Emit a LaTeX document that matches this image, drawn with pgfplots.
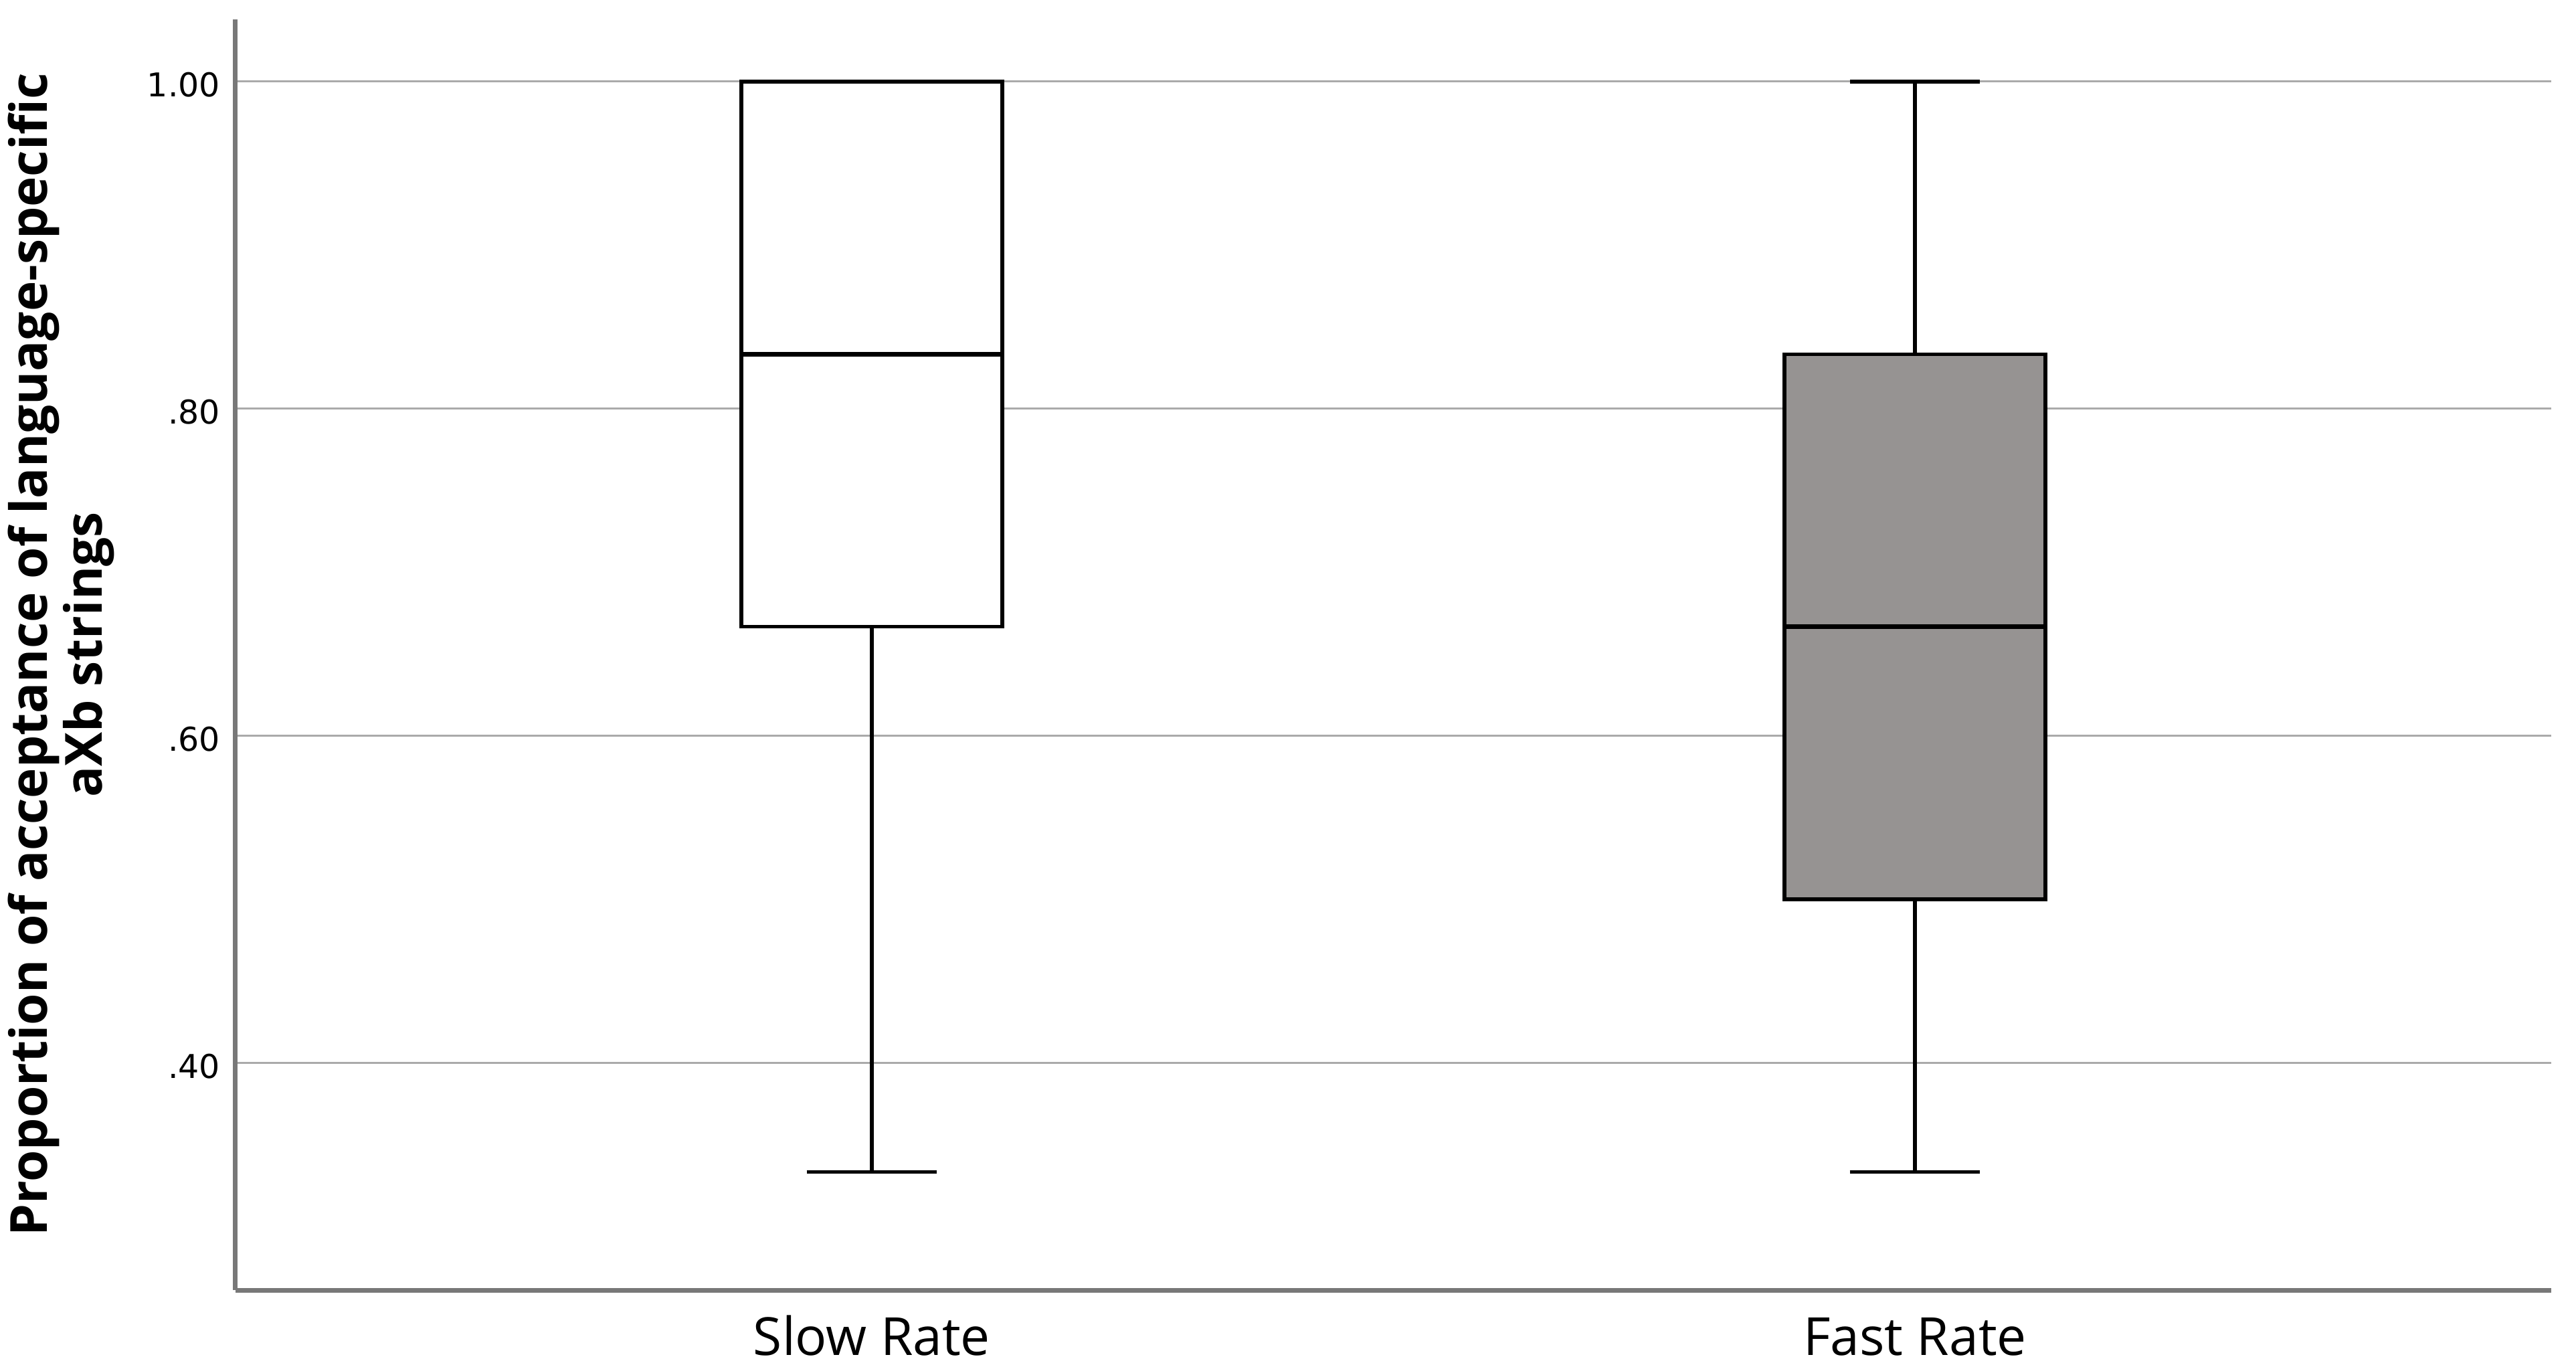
\documentclass[border=0pt]{standalone}
\usepackage{fontspec}
\setmainfont{Open Sans}
\newfontfamily\tickfont{DejaVu Sans}
\usepackage{pgfplots}
\pgfplotsset{compat=1.18}
\usepgfplotslibrary{statistics}
\definecolor{fastgray}{RGB}{150,147,146}
\definecolor{axisgray}{RGB}{120,120,120}
\definecolor{gridgray}{RGB}{170,170,170}
\begin{document}
\begin{tikzpicture}
\useasboundingbox (-70.4pt,-22.2pt) rectangle (699.6pt,385.6pt);
\begin{axis}[
  at={(0pt,0pt)}, anchor=south west,
  scale only axis, width=692.2pt, height=379.8pt,
  xmin=0.39, xmax=2.61, ymin=0.261, ymax=1.038,
  axis x line*=bottom, axis y line*=left,
  axis line style={line width=1.4pt, color=axisgray},
  major tick length=0pt,
  xtick={1,2}, xticklabels={Slow Rate,Fast Rate},
  ytick={0.4,0.6,0.8,1.0}, yticklabels={.40,.60,.80,1.00},
  xticklabel style={font=\fontsize{15.7}{16}\selectfont, anchor=base, inner sep=0pt, yshift=-19.4pt},
  yticklabel style={font=\tickfont\fontsize{9.8}{10}\selectfont, anchor=east, inner sep=0pt, xshift=-4.4pt, yshift=-1pt},
  ymajorgrids, grid style={line width=0.6pt, color=gridgray},
  ylabel={Proportion of acceptance of language-specific\\aXb strings},
  ylabel style={align=center, font=\bfseries\fontsize{15.3}{14.5}\selectfont, at={(axis description cs:-0.0985,0.5)}, anchor=north, inner sep=0pt},
  boxplot/draw direction=y,
  boxplot/every median/.style={line width=1.5pt},
]
\addplot[boxplot prepared={draw position=1, lower whisker=0.3333, lower quartile=0.6667, median=0.8333, upper quartile=1.0, upper whisker=1.0, box extend=0.25, whisker extend=0.125}, draw=black, line width=1.1pt, fill=white] coordinates {};
\addplot[boxplot prepared={draw position=2, lower whisker=0.3333, lower quartile=0.5, median=0.6667, upper quartile=0.8333, upper whisker=1.0, box extend=0.25, whisker extend=0.125}, draw=black, line width=1.1pt, fill=fastgray] coordinates {};
\end{axis}
\end{tikzpicture}
\end{document}
